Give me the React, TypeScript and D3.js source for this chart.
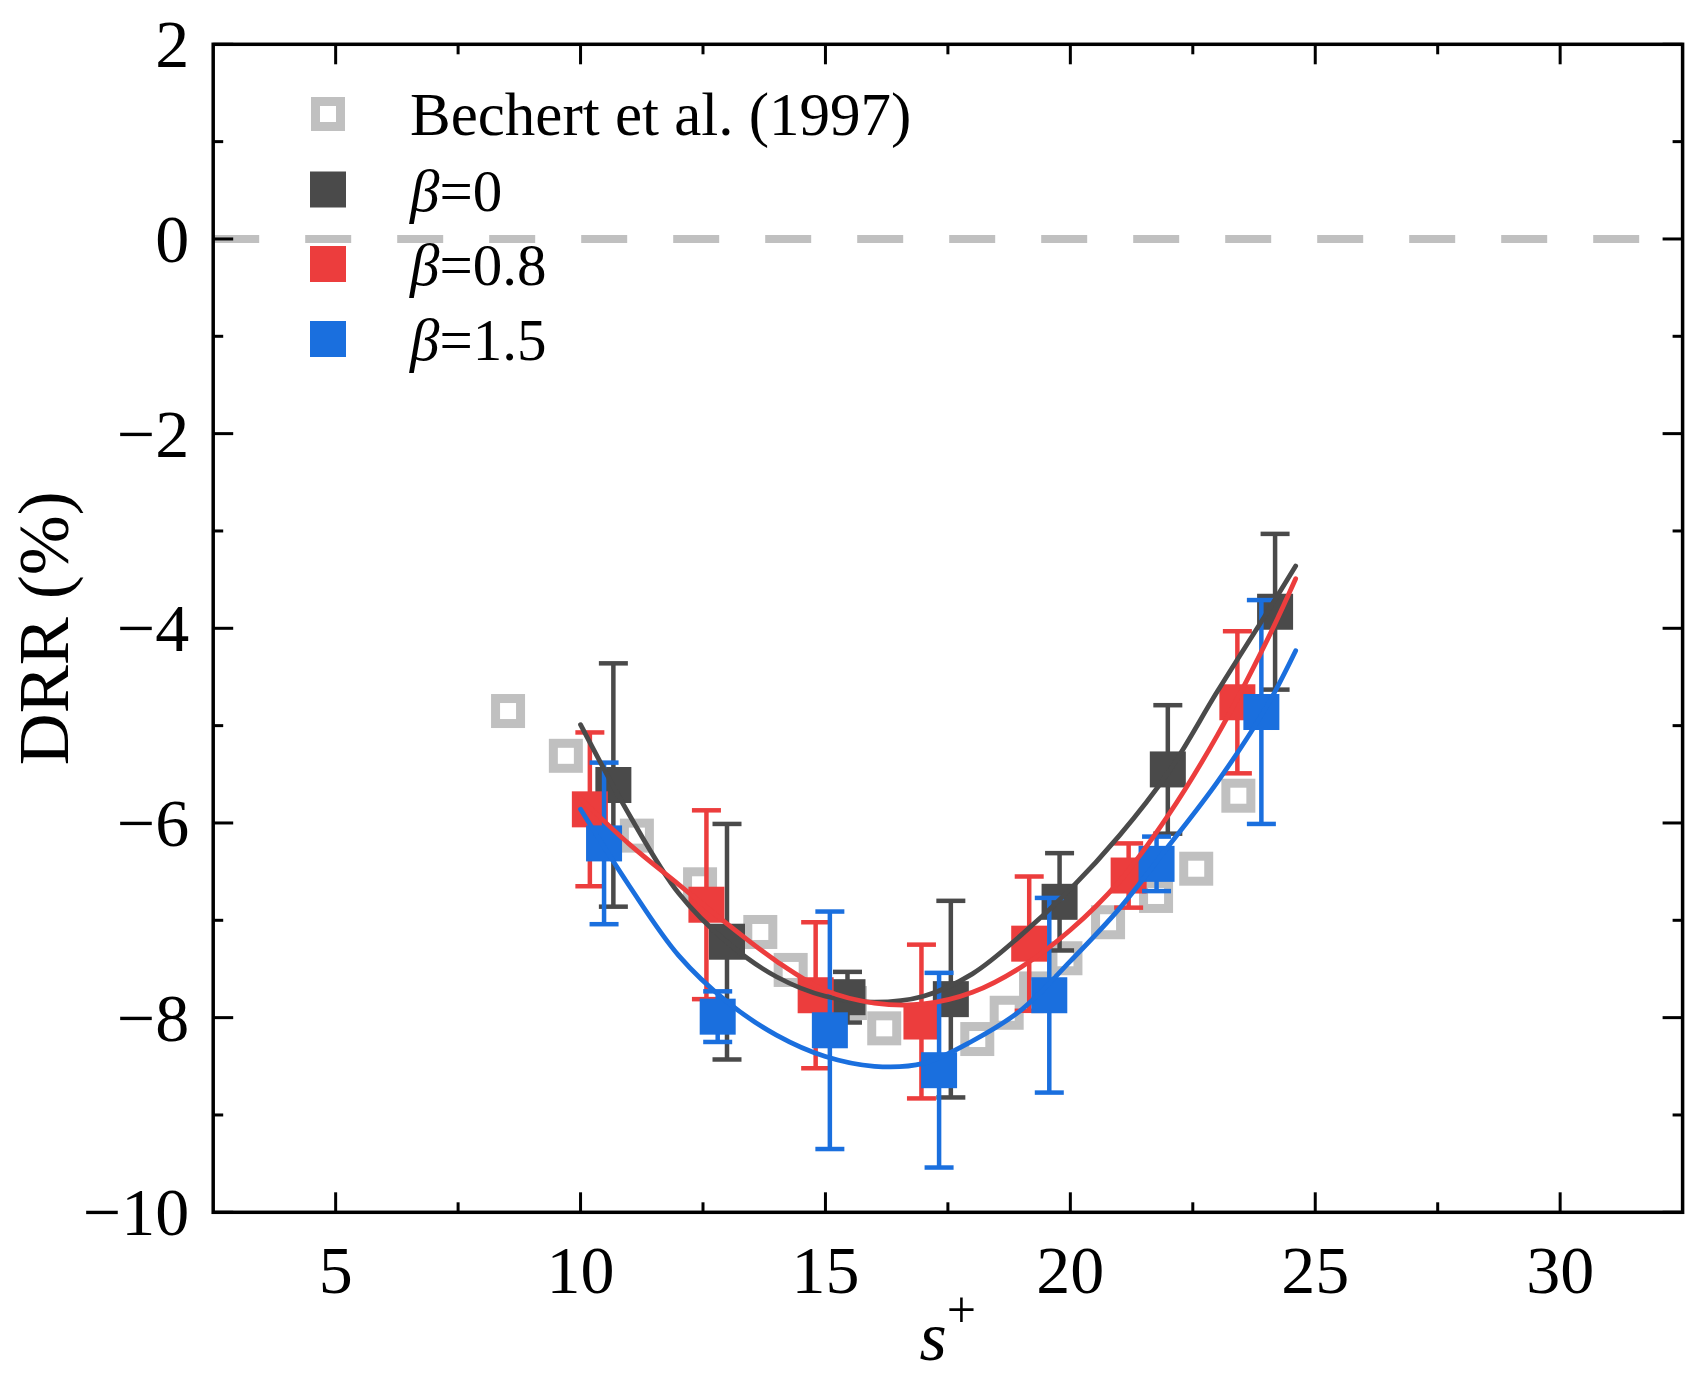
import React from "react";
import * as d3 from "d3";

// Bechert et al. (1997) reference data (open grey squares)
const bechertS = [8.52, 9.7, 11.15, 12.44, 13.67, 14.29, 15.5, 16.2, 18.1, 18.7, 19.3, 19.9, 20.77, 21.75, 22.57, 23.43];
const bechertDRR = [-4.85, -5.31, -6.13, -6.63, -7.12, -7.51, -7.85, -8.11, -8.22, -7.95, -7.7, -7.39, -7.02, -6.75, -6.47, -5.72];

// simulation points with error bars
const beta0S = [10.67, 12.99, 15.45, 17.56, 19.78, 21.99, 24.18];
const beta0DRR = [-5.61, -7.22, -7.79, -7.81, -6.81, -5.45, -3.83];
const beta0Err = [1.25, 1.21, 0.26, 1.01, 0.5, 0.66, 0.8];

const beta08S = [10.19, 12.57, 14.8, 16.96, 19.16, 21.19, 23.41];
const beta08DRR = [-5.86, -6.84, -7.77, -8.04, -7.24, -6.54, -4.76];
const beta08Err = [0.79, 0.97, 0.75, 0.79, 0.69, 0.33, 0.73];

const beta15S = [10.48, 12.8, 15.09, 17.32, 19.57, 21.76, 23.9];
const beta15DRR = [-6.21, -7.99, -8.13, -8.54, -7.77, -6.42, -4.86];
const beta15Err = [0.83, 0.26, 1.22, 1.0, 1.0, 0.28, 1.15];

// fitted curves
const fitS = [10, 11, 12, 13, 14, 15, 16, 17, 18, 19, 20, 21, 22, 23, 24, 24.6];
const fitBeta0 = [-4.99, -5.92, -6.72, -7.23, -7.58, -7.78, -7.84, -7.78, -7.55, -7.15, -6.68, -6.13, -5.48, -4.65, -3.85, -3.36];
const fitBeta08 = [-5.75, -6.22, -6.63, -7.04, -7.42, -7.72, -7.85, -7.86, -7.74, -7.48, -7.1, -6.6, -5.92, -5.1, -4.14, -3.49];
const fitBeta15 = [-5.86, -6.65, -7.36, -7.84, -8.18, -8.4, -8.5, -8.47, -8.24, -7.92, -7.42, -6.88, -6.24, -5.58, -4.81, -4.23];

// axes
const xTicks = [5, 10, 15, 20, 25, 30];
const xMinorTicks = [7.5, 12.5, 17.5, 22.5, 27.5];
const yTicks = [-10, -8, -6, -4, -2, 0, 2];
const yMinorTicks = [-9, -7, -5, -3, -1, 1];

const width = 1702;
const height = 1380;
const margin = {top: 44.3, right: 19.4, bottom: 167.7, left: 213.2};
const font = "'Liberation Serif', 'Times New Roman', serif";

const series = [
    {key: "b0", label: "0", color: "#4a4a4a", s: beta0S, drr: beta0DRR, err: beta0Err, fit: fitBeta0},
    {key: "b08", label: "0.8", color: "#ec3d3d", s: beta08S, drr: beta08DRR, err: beta08Err, fit: fitBeta08},
    {key: "b15", label: "1.5", color: "#1a6fde", s: beta15S, drr: beta15DRR, err: beta15Err, fit: fitBeta15},
];

const App: React.FC = () => {
    const x = d3.scaleLinear().domain([2.5, 32.5]).range([margin.left, width - margin.right]);
    const y = d3.scaleLinear().domain([-10, 2]).range([height - margin.bottom, margin.top]);

    const [x0, x1] = x.range();
    const [y0, y1] = y.range(); // y0 bottom, y1 top

    const line = d3.line<number>()
        .x((_, i) => x(fitS[i]))
        .y(d => y(d))
        .curve(d3.curveCatmullRom.alpha(0.5));

    const sq = 36; // filled square size
    const capW = 29;
    const minus = (v: number) => (v < 0 ? "\u2212" + Math.abs(v) : String(v));

    const legendRows = [114, 189.5, 264, 339];

    return (
        <svg width={width} height={height} style={{position: "absolute", left: 0, top: 0, background: "#fff"}}
             fontFamily={font}>
            {/* zero line */}
            <line x1={x0} x2={x1} y1={y(0)} y2={y(0)} stroke="#c0c0c0" strokeWidth={8}
                  strokeDasharray="46 46"/>

            {/* Bechert data */}
            {bechertS.map((s, i) => (
                <rect key={"be" + i} x={x(s) - 12.5} y={y(bechertDRR[i]) - 12.5} width={25} height={25}
                      fill="none" stroke="#c0c0c0" strokeWidth={9}/>
            ))}

            {/* error bars and squares */}
            {series.map(sr => (
                <g key={sr.key}>
                    {sr.s.map((s, i) => {
                        const cx = x(s);
                        const top = y(sr.drr[i] + sr.err[i]);
                        const bot = y(sr.drr[i] - sr.err[i]);
                        return (
                            <g key={i} stroke={sr.color} strokeWidth={4.5}>
                                <line x1={cx} x2={cx} y1={top} y2={bot}/>
                                <line x1={cx - capW / 2} x2={cx + capW / 2} y1={top} y2={top}/>
                                <line x1={cx - capW / 2} x2={cx + capW / 2} y1={bot} y2={bot}/>
                            </g>
                        );
                    })}
                    {sr.s.map((s, i) => (
                        <rect key={"p" + i} x={x(s) - sq / 2} y={y(sr.drr[i]) - sq / 2} width={sq} height={sq}
                              fill={sr.color}/>
                    ))}
                </g>
            ))}

            {/* fitted curves */}
            {series.map(sr => (
                <path key={"f" + sr.key} d={line(sr.fit) || ""} fill="none" stroke={sr.color} strokeWidth={4.8}
                      strokeLinecap="round"/>
            ))}

            {/* frame */}
            <rect x={x0} y={y1} width={x1 - x0} height={y0 - y1} fill="none" stroke="#000" strokeWidth={3.5}/>

            {/* x ticks (inward, bottom and top) */}
            <g stroke="#000" strokeWidth={3}>
                {xTicks.map(t => (
                    <g key={"xt" + t}>
                        <line x1={x(t)} x2={x(t)} y1={y0} y2={y0 - 20}/>
                        <line x1={x(t)} x2={x(t)} y1={y1} y2={y1 + 20}/>
                    </g>
                ))}
                {xMinorTicks.map(t => (
                    <g key={"xm" + t}>
                        <line x1={x(t)} x2={x(t)} y1={y0} y2={y0 - 10}/>
                        <line x1={x(t)} x2={x(t)} y1={y1} y2={y1 + 10}/>
                    </g>
                ))}
                {yTicks.map(t => (
                    <g key={"yt" + t}>
                        <line x1={x0} x2={x0 + 20} y1={y(t)} y2={y(t)}/>
                        <line x1={x1} x2={x1 - 20} y1={y(t)} y2={y(t)}/>
                    </g>
                ))}
                {yMinorTicks.map(t => (
                    <g key={"ym" + t}>
                        <line x1={x0} x2={x0 + 10} y1={y(t)} y2={y(t)}/>
                        <line x1={x1} x2={x1 - 10} y1={y(t)} y2={y(t)}/>
                    </g>
                ))}
            </g>

            {/* tick labels */}
            {xTicks.map(t => (
                <text key={"xl" + t} x={x(t)} y={y0 + 81} textAnchor="middle" fontSize={68}>{t}</text>
            ))}
            {yTicks.map(t => (
                <text key={"yl" + t} x={x0 - 24} y={y(t)} dy="0.34em" textAnchor="end" fontSize={68}>{minus(t)}</text>
            ))}

            {/* axis titles */}
            <text transform={`translate(68, ${(y0 + y1) / 2}) rotate(-90)`} textAnchor="middle" fontSize={72}>
                DRR (%)
            </text>
            <text x={(x0 + x1) / 2} y={1360} textAnchor="middle" fontSize={70}>
                <tspan fontStyle="italic">s</tspan>
                <tspan fontSize={52} dy={-33}>+</tspan>
            </text>

            {/* legend */}
            <rect x={328 - 12.5} y={legendRows[0] - 12.5} width={25} height={25} fill="none" stroke="#c0c0c0"
                  strokeWidth={9}/>
            <text x={410} y={legendRows[0] + 21} fontSize={61}>Bechert et al. (1997)</text>
            {series.map((sr, i) => (
                <g key={"lg" + sr.key}>
                    <rect x={328 - sq / 2} y={legendRows[i + 1] - sq / 2} width={sq} height={sq} fill={sr.color}/>
                    <text x={410} y={legendRows[i + 1] + 21} fontSize={59}>
                        <tspan fontStyle="italic">β</tspan>={sr.label}
                    </text>
                </g>
            ))}
        </svg>
    );
};

export default App;
